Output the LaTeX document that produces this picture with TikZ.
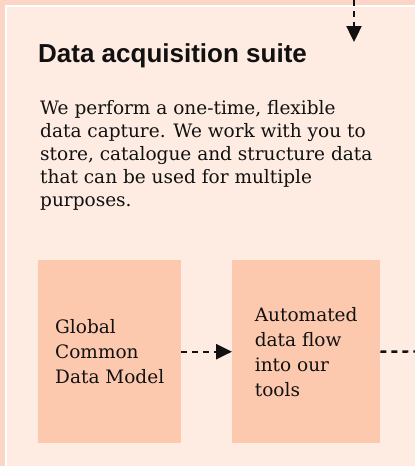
\documentclass[tikz,border=0pt]{standalone}
\usepackage{fontspec}
\setmainfont{DejaVu Serif}
\newfontfamily\headfont{Liberation Sans}
\usepackage{xcolor}
\usetikzlibrary{arrows.meta}
\usetikzlibrary{calc}

\definecolor{outerpink}{HTML}{FCD5C6}
\definecolor{panelpink}{HTML}{FEEBE1}
\definecolor{boxpink}{HTML}{FDC9AE}
\definecolor{inkgray}{HTML}{111111}

\tikzset{
  stagebox/.style={fill=boxpink, align=left, text=inkgray, inner sep=0pt,
    minimum height=183pt, font=\fontsize{18.5}{25}\selectfont},
  flowline/.style={inkgray, line width=2.4pt, dash pattern=on 6pt off 5pt},
  flowarrow/.style={flowline, -{Triangle[length=16pt,width=15pt]}}
}

\begin{document}
\begin{tikzpicture}[x=1pt,y=-1pt]
\useasboundingbox (0,0) rectangle (415,466);
\fill[outerpink] (0,0) rectangle (415,466);
\draw[white, line width=1.5pt, fill=panelpink] (6,6) rectangle (430,480);
% heading and intro text
\node[anchor=base west, inner sep=0, text=inkgray,
  font=\headfont\bfseries\fontsize{26}{30}\selectfont] (title) at (38,62) {Data acquisition suite};
\node[anchor=north west, inner sep=0, align=left, text=inkgray,
  font=\fontsize{18.5}{23}\selectfont] (intro) at (40,100)
  {We perform a one-time, flexible\\data capture. We work with you to\\store, catalogue and structure data\\that can be used for multiple\\purposes.};
% the two stages
\node[stagebox, anchor=north west, minimum width=143pt] (gcdm) at (38,260) {Global\\Common\\Data Model};
\node[stagebox, anchor=north west, minimum width=148pt] (auto) at (232,260) {Automated\\data flow\\into our\\tools};
\coordinate (topin) at (354,0);
\coordinate (suitein) at (354,42);
\coordinate (rightout) at (415,351.5);
\draw[flowarrow] (topin) -- (suitein);
\draw[flowarrow] (gcdm.east) -- (auto.west);
\draw[flowline] (auto.east) -- (rightout);
\end{tikzpicture}
\end{document}
